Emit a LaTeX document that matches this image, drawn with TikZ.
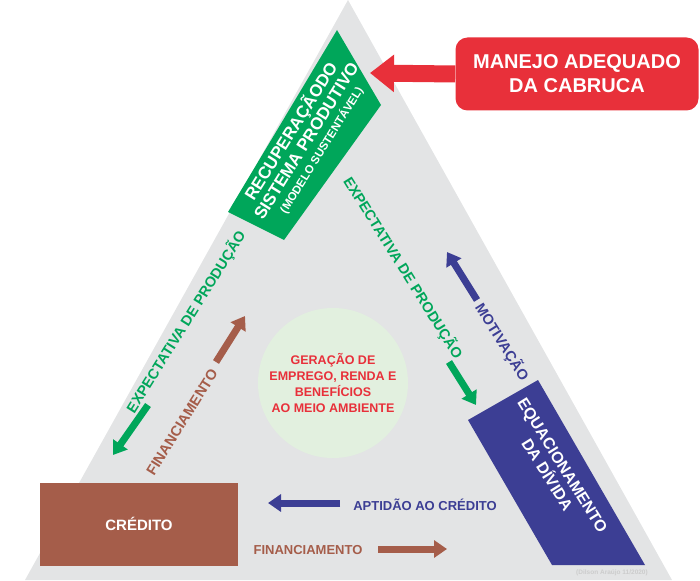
\documentclass[tikz,border=0pt]{standalone}
\usepackage{fontspec}
\setmainfont{Liberation Sans}
\usetikzlibrary{arrows.meta}
\definecolor{tri}{HTML}{E3E4E5}
\definecolor{gr}{HTML}{00A65A}
\definecolor{bl}{HTML}{3C3E94}
\definecolor{br}{HTML}{A55D4A}
\definecolor{rd}{HTML}{E8303A}
\definecolor{circ}{HTML}{E2F0DF}
\tikzset{
 lbl/.style={font=\bfseries\fontsize{13}{14}\selectfont, inner sep=0pt},
 rlbl/.style={font=\bfseries\fontsize{14.5}{15}\selectfont, inner sep=0pt},
 blk/.style={line width=7pt, -{Triangle[width=17pt,length=13pt]}},
}
\begin{document}
\begin{tikzpicture}[x=1pt,y=-1pt]
\useasboundingbox (0,0) rectangle (700,580);
\fill[tri] (348,0) -- (672,580) -- (25,580) -- cycle;
\fill[gr] (337,30) -- (381,105) -- (284,240) -- (228,212) -- cycle;
\fill[bl] (538,380) -- (645,565) -- (552,565) -- (468,420) -- cycle;
\fill[br] (40,483) rectangle (238,566);
\node[fill=circ, circle, minimum size=150pt, inner sep=0pt] (c) at (333,383) {};
\node[text=rd, align=center, font=\bfseries\fontsize{12.5}{16}\selectfont] (g) at (333,383) {GERAÇÃO DE\\EMPREGO, RENDA E\\BENEFÍCIOS\\AO MEIO AMBIENTE};
\node[rotate=58, text=white, align=center, font=\bfseries\fontsize{17}{18}\selectfont] (rec) at (305,140) {RECUPERAÇÃODO\\SISTEMA PRODUTIVO\\[-2pt]{\fontsize{11.5}{12}\selectfont(MODELO SUSTENTÁVEL)}};
\node[rotate=-58, text=white, align=center, font=\bfseries\fontsize{16}{18}\selectfont] (eq) at (555,470) {EQUACIONAMENTO\\DA DÍVIDA};
\node[text=white, font=\bfseries\fontsize{15}{17}\selectfont] (cr) at (139,524) {CRÉDITO};
\node[fill=rd, rounded corners=12pt, minimum width=243pt, minimum height=73pt, text=white, align=center, font=\bfseries\fontsize{20}{24}\selectfont] (m) at (577,74) {MANEJO ADEQUADO\\DA CABRUCA};
\coordinate (ma) at (370,73);
\draw[rd, line width=17pt, -{Triangle[width=36pt,length=24pt]}] (m.west) -- (ma);
% left green
\node[rlbl, text=gr, rotate=58] (lg) at (186,322) {EXPECTATIVA DE PRODUÇÃO};
\coordinate (lg1) at (148,405); \coordinate (lg2) at (113,455);
\draw[gr, blk] (lg1) -- (lg2);
% right green
\node[rlbl, text=gr, rotate=-58] (rg) at (403,268) {EXPECTATIVA DE PRODUÇÃO};
\coordinate (rg1) at (449,362); \coordinate (rg2) at (476,405);
\draw[gr, blk] (rg1) -- (rg2);
% left brown
\node[rlbl, text=br, rotate=58] (lf) at (182,422) {FINANCIAMENTO};
\coordinate (lf1) at (216,362); \coordinate (lf2) at (245,316);
\draw[br, blk] (lf1) -- (lf2);
% motivation
\node[rlbl, text=bl, rotate=-58] (mo) at (502,342) {MOTIVAÇÃO};
\coordinate (mo1) at (477,300); \coordinate (mo2) at (447,252);
\draw[bl, blk] (mo1) -- (mo2);
% aptidao
\node[lbl, text=bl] (ap) at (425,505) {APTIDÃO AO CRÉDITO};
\coordinate (ap1) at (340,503); \coordinate (ap2) at (268,503);
\draw[bl, blk] (ap1) -- (ap2);
% bottom financ
\node[lbl, text=br] (bf) at (308,550) {FINANCIAMENTO};
\coordinate (bf1) at (378,549); \coordinate (bf2) at (447,549);
\draw[br, blk] (bf1) -- (bf2);
\node[text=black!20, font=\bfseries\fontsize{6.5}{7}\selectfont] (cd) at (612,573) {(Dilson Araújo 11/2020)};
\end{tikzpicture}
\end{document}
